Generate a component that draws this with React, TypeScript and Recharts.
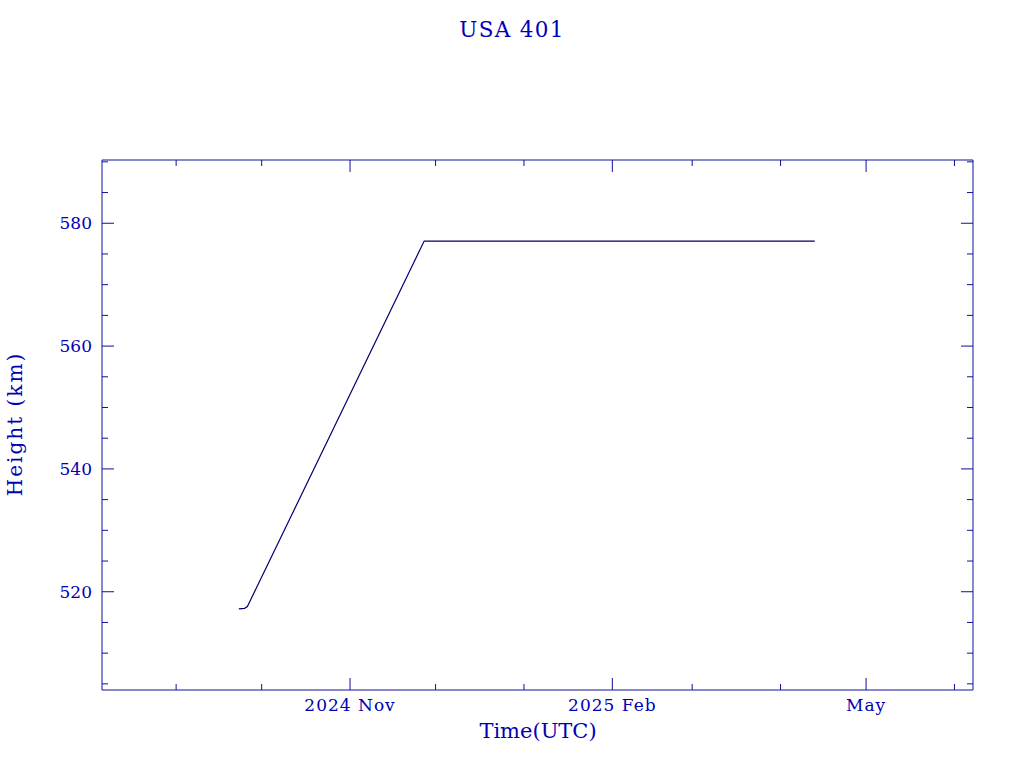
import React from "react";
import { LineChart, Line, XAxis, YAxis } from "recharts";

const DATES = ["2024-09-23", "2024-09-25", "2024-09-26", "2024-11-27", "2025-04-13"];
const HEIGHTS = [517.2, 517.3, 517.6, 577.1, 577.1];

const MONTH_TICKS = [
  "2024-09-01", "2024-10-01", "2024-11-01", "2024-12-01", "2025-01-01",
  "2025-02-01", "2025-03-01", "2025-04-01", "2025-05-01", "2025-06-01",
];
const MAJOR_MONTHS = ["2024-11-01", "2025-02-01", "2025-05-01"];
const MAJOR_LABELS = ["2024 Nov", "2025 Feb", "May"];

const Y_MINOR = [505, 510, 515, 520, 525, 530, 535, 540, 545, 550, 555, 560, 565, 570, 575, 580, 585, 590];
const Y_MAJOR = [520, 540, 560, 580];

const ts = (d: string) => Date.parse(d + "T00:00:00Z");

const data = DATES.map((d, i) => ({ t: ts(d), h: HEIGHTS[i] }));
const xTicks = MONTH_TICKS.map(ts);
const xMajor = MAJOR_MONTHS.map(ts);
const X_DOMAIN = [Date.UTC(2024, 7, 6), Date.UTC(2025, 5, 7, 12)];
const Y_DOMAIN = [504, 590.3];

const AXIS = "#10109c";
const TEXT = "#0000b4";
const LINE = "#00006e";
const FONT = "DejaVu Serif";

const BottomTick = (p: any) => {
  const i = xMajor.indexOf(p.payload.value);
  const major = i >= 0;
  return (
    <g>
      <line x1={p.x} x2={p.x} y1={p.y} y2={p.y - (major ? 12 : 6)} stroke={AXIS} />
      {major && (
        <text x={p.x} y={p.y + 21} textAnchor="middle" fontSize={17} letterSpacing={1} fill={TEXT} fontFamily={FONT}>
          {MAJOR_LABELS[i]}
        </text>
      )}
    </g>
  );
};

const TopTick = (p: any) => {
  const major = xMajor.includes(p.payload.value);
  return <line x1={p.x} x2={p.x} y1={p.y} y2={p.y + (major ? 12 : 6)} stroke={AXIS} />;
};

const LeftTick = (p: any) => {
  const major = Y_MAJOR.includes(p.payload.value);
  return (
    <g>
      <line x1={p.x} x2={p.x + (major ? 12 : 6)} y1={p.y} y2={p.y} stroke={AXIS} />
      {major && (
        <text x={p.x - 10} y={p.y + 6} textAnchor="end" fontSize={17} fill={TEXT} fontFamily={FONT}>
          {p.payload.value}
        </text>
      )}
    </g>
  );
};

const RightTick = (p: any) => {
  const major = Y_MAJOR.includes(p.payload.value);
  return <line x1={p.x} x2={p.x - (major ? 12 : 6)} y1={p.y} y2={p.y} stroke={AXIS} />;
};

export default function App() {
  return (
    <div style={{ position: "absolute", left: 0, top: 0, width: 1024, height: 768, background: "#fff" }}>
      <LineChart width={1024} height={768} data={data} margin={{ top: 159, right: 50, bottom: 77, left: 101 }}>
        <XAxis
          dataKey="t"
          type="number"
          domain={X_DOMAIN}
          ticks={xTicks}
          interval={0}
          height={1}
          tickSize={0}
          tickMargin={0}
          tickLine={false}
          axisLine={{ stroke: AXIS }}
          tick={BottomTick}
        />
        <XAxis
          xAxisId="top"
          orientation="top"
          dataKey="t"
          type="number"
          domain={X_DOMAIN}
          ticks={xTicks}
          interval={0}
          height={1}
          tickSize={0}
          tickMargin={0}
          tickLine={false}
          axisLine={{ stroke: AXIS }}
          tick={TopTick}
        />
        <YAxis
          type="number"
          domain={Y_DOMAIN}
          ticks={Y_MINOR}
          interval={0}
          width={1}
          tickSize={0}
          tickMargin={0}
          tickLine={false}
          axisLine={{ stroke: AXIS }}
          tick={LeftTick}
          allowDataOverflow
        />
        <YAxis
          yAxisId="right"
          orientation="right"
          type="number"
          domain={Y_DOMAIN}
          ticks={Y_MINOR}
          interval={0}
          width={1}
          tickSize={0}
          tickMargin={0}
          tickLine={false}
          axisLine={{ stroke: AXIS }}
          tick={RightTick}
          allowDataOverflow
        />
        <Line dataKey="h" type="linear" stroke={LINE} strokeWidth={1.2} dot={false} isAnimationActive={false} />
        <Line
          dataKey="h"
          xAxisId="top"
          yAxisId="right"
          stroke="none"
          dot={false}
          legendType="none"
          isAnimationActive={false}
        />
      </LineChart>
      <svg width={1024} height={768} style={{ position: "absolute", left: 0, top: 0, pointerEvents: "none" }}>
        <text x={512} y={37} textAnchor="middle" fontSize={21.5} letterSpacing={1.3} fill={TEXT} fontFamily={FONT}>
          USA 401
        </text>
        <text x={538} y={738} textAnchor="middle" fontSize={21} fill={TEXT} fontFamily={FONT}>
          Time(UTC)
        </text>
        <text
          transform="translate(22,424) rotate(-90)"
          textAnchor="middle"
          fontSize={20}
          letterSpacing={2}
          fill={TEXT}
          fontFamily={FONT}
        >
          Height (km)
        </text>
      </svg>
    </div>
  );
}
